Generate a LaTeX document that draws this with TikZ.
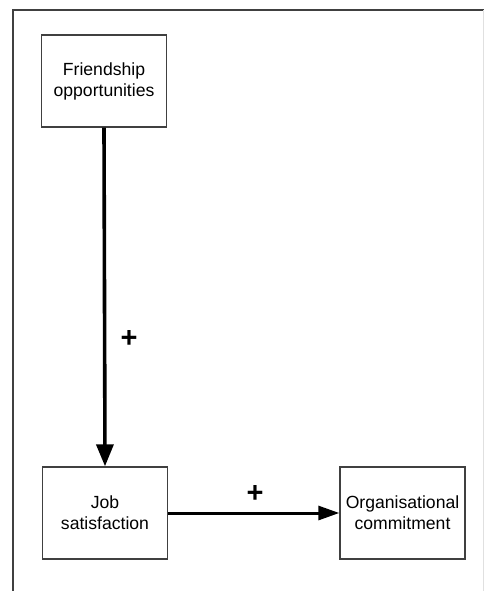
\documentclass[tikz,border=0pt]{standalone}
\usepackage{fontspec}
\setmainfont{Liberation Sans}
\usetikzlibrary{arrows.meta}
\begin{document}
\begin{tikzpicture}[x=1pt,y=-1pt,
  box/.style={draw=black!75,line width=1.4pt,fill=white,minimum width=125pt,
    minimum height=92pt,inner sep=0pt,align=center,font=\fontsize{17.6}{21}\selectfont},
  link/.style={line width=3.6pt,-{Triangle[length=22pt,width=17pt]}},
  sign/.style={font=\fontsize{29}{29}\selectfont\bfseries,inner sep=0pt}]
  \useasboundingbox (0,0) rectangle (484,591);
  % frame around the diagram
  \draw[black!75,line width=2pt] (13,591) -- (13,10) -- (484,10);
  \draw[black!12,line width=1pt] (483,10) -- (483,591);
  % variables
  \node[box] (friend) at (104,81) {Friendship\\opportunities};
  \node[box] (job) at (105,513) {Job\\satisfaction};
  \node[box] (org) at (402.5,513) {Organisational\\commitment};
  % positive effects
  \draw[link] (friend.south) -- (job.north);
  \draw[link,line width=3pt,-{Triangle[length=21pt,width=14pt]}] (job.east) -- (org.west);
  \node[sign] (p1) at (129,339) {+};
  \node[sign] (p2) at (255,494) {+};
\end{tikzpicture}
\end{document}
